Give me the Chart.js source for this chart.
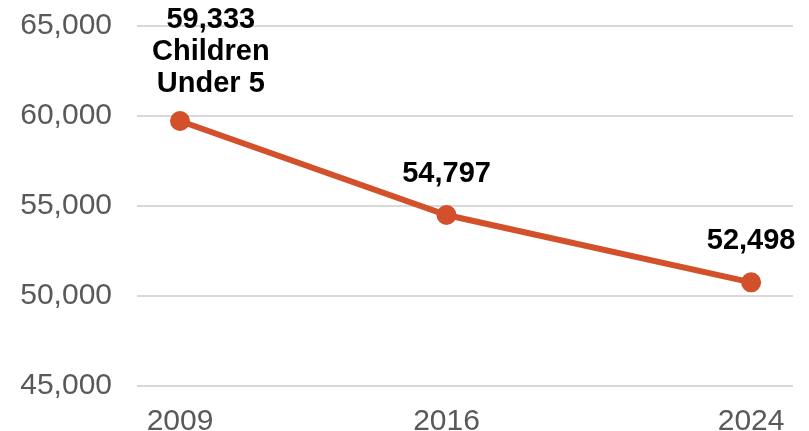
<!DOCTYPE html>
<html>
<head>
<meta charset="utf-8">
<script src="https://cdn.jsdelivr.net/npm/chart.js@4"></script>
<style>
  html, body { margin: 0; padding: 0; background: #fff; }
  #wrap { width: 809px; height: 431px; }
</style>
</head>
<body>
<div id="wrap"><canvas id="c"></canvas></div>
<script>
// values
var years = [2009, 2016, 2024];
var children = [59720, 54500, 50760];
var pointLabels = [["59,333", "Children", "Under 5"], ["54,797"], ["52,498"]];
var yTicks = [45000, 50000, 55000, 60000, 65000];

var lineColor = '#d2502a';

// draws the bold labels above each point
var labelPlugin = {
  id: 'pointLabels',
  afterDatasetsDraw: function(chart) {
    var ctx = chart.ctx;
    var meta = chart.getDatasetMeta(0);
    var area = chart.chartArea;
    ctx.save();
    ctx.font = 'bold 29px "Liberation Sans", Arial, sans-serif';
    ctx.fillStyle = '#000';
    ctx.textAlign = 'center';
    ctx.textBaseline = 'middle';
    var lh = 32;
    meta.data.forEach(function(pt, i) {
      var lines = pointLabels[i];
      var w = 0;
      lines.forEach(function(l) { w = Math.max(w, ctx.measureText(l).width); });
      var x = pt.x;
      if (x - w / 2 < area.left + 15) x = area.left + 15 + w / 2;
      var yLast = pt.y - (lines.length > 1 ? 37 : 41);
      for (var k = lines.length - 1; k >= 0; k--) {
        ctx.fillText(lines[k], x, yLast - (lines.length - 1 - k) * lh);
      }
    });
    ctx.restore();
  }
};

new Chart(document.getElementById('c'), {
  type: 'line',
  data: {
    datasets: [{
      data: years.map(function(y, i) { return { x: y, y: children[i] }; }),
      borderColor: lineColor,
      backgroundColor: lineColor,
      borderWidth: 6,
      pointRadius: 7,
      pointHoverRadius: 7,
      fill: false,
      tension: 0
    }]
  },
  options: {
    responsive: true,
    maintainAspectRatio: false,
    animation: false,
    layout: { padding: { top: 26, right: 16, left: 18, bottom: 0 } },
    plugins: { legend: { display: false }, tooltip: { enabled: false } },
    scales: {
      x: {
        type: 'linear',
        min: 2007.87,
        max: 2025.1,
        afterBuildTicks: function(axis) {
          axis.ticks = years.map(function(v) { return { value: v }; });
        },
        afterFit: function(axis) { axis.height = 45; axis.paddingLeft = 0; axis.paddingRight = 0; },
        grid: { display: false },
        border: { display: false },
        ticks: {
          color: '#595959',
          padding: 10,
          font: { family: '"Liberation Sans", Arial, sans-serif', size: 30 },
          callback: function(v) { return String(v); }
        }
      },
      y: {
        min: 45000,
        max: 65000,
        afterBuildTicks: function(axis) {
          axis.ticks = yTicks.map(function(v) { return { value: v }; });
        },
        afterFit: function(axis) { axis.width = 119; axis.paddingTop = 0; axis.paddingBottom = 0; },
        grid: { color: '#d9d9d9', lineWidth: 2, drawTicks: false },
        border: { display: false },
        ticks: {
          color: '#595959',
          padding: 25,
          font: { family: '"Liberation Sans", Arial, sans-serif', size: 30 },
          callback: function(v) { return v.toLocaleString('en-US'); }
        }
      }
    }
  },
  plugins: [labelPlugin]
});
</script>
</body>
</html>
